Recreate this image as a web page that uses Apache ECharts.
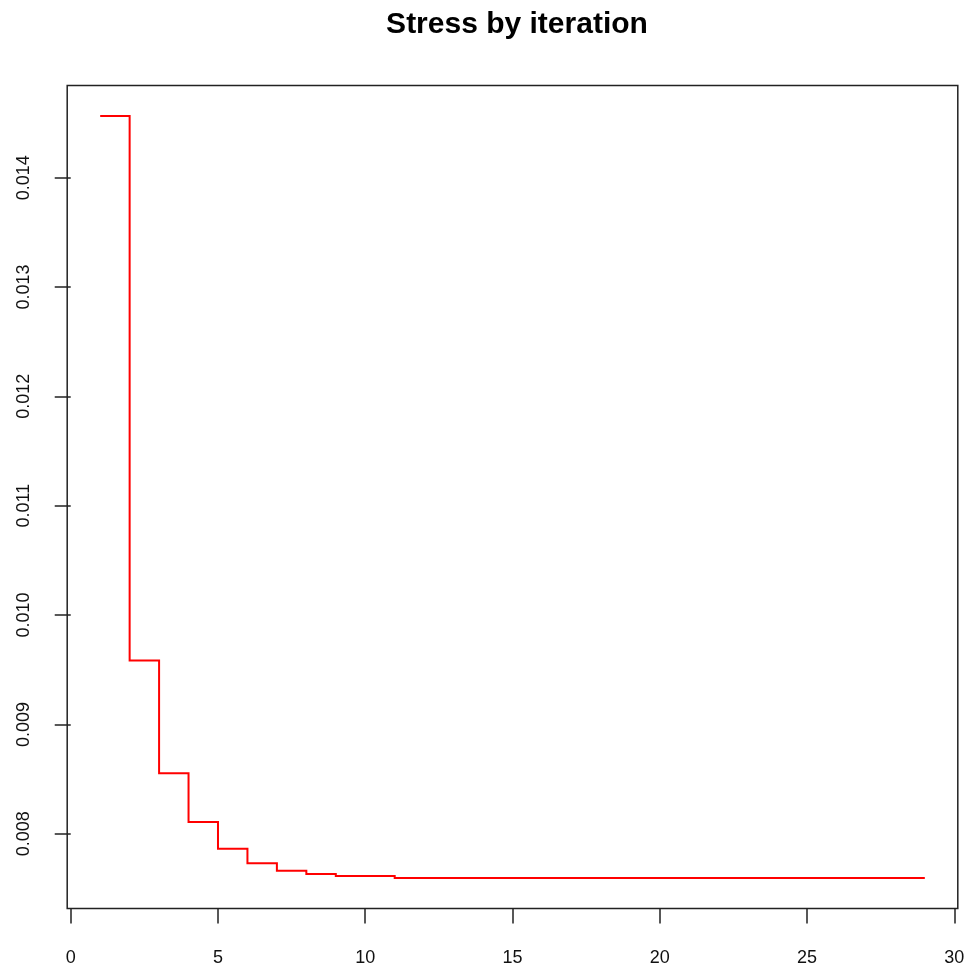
<!DOCTYPE html>
<html>
<head>
<meta charset="utf-8">
<script src="https://cdn.jsdelivr.net/npm/echarts@6/dist/echarts.min.js"></script>
<style>html,body{margin:0;padding:0;background:#fff;}#c{width:970px;height:973px;}</style>
</head>
<body>
<div id="c"></div>
<script>
const iterations = [1,2,3,4,5,6,7,8,9,10,11,12,13,14,15,16,17,18,19,20,21,22,23,24,25,26,27,28,29];
const stress = [0.014564,0.009585,0.008552,0.008107,0.007863,0.007729,0.007662,0.007631,0.007613,0.007613,
  0.007595,0.007595,0.007595,0.007595,0.007595,0.007595,0.007595,0.007595,0.007595,0.007595,
  0.007595,0.007595,0.007595,0.007595,0.007595,0.007595,0.007595,0.007595,0.007595];
const xTicks = [0,5,10,15,20,25,30];
const yTicks = [0.008,0.009,0.010,0.011,0.012,0.013,0.014];
const titleText = 'Stress by iteration';

const FONT = '"Liberation Sans", Arial, sans-serif';
const xmin0 = Math.min(...iterations), xmax0 = Math.max(...iterations);
const ymin0 = Math.min(...stress), ymax0 = Math.max(...stress);
const xr = (xmax0 - xmin0) * 0.04, yr = (ymax0 - ymin0) * 0.04;

const seriesData = iterations.map((x, i) => [x, stress[i]]);

// R type="s": horizontal first, then vertical at the next x.
function renderStep(params, api) {
  if (params.dataIndex !== 0) return null;
  const pts = [];
  for (let i = 0; i < iterations.length; i++) {
    pts.push(api.coord([iterations[i], stress[i]]));
    if (i < iterations.length - 1) pts.push(api.coord([iterations[i + 1], stress[i]]));
  }
  return {
    type: 'polyline',
    shape: {points: pts},
    style: {stroke: '#ff0000', lineWidth: 2, fill: null, lineJoin: 'miter'}
  };
}

const chart = echarts.init(document.getElementById('c'), null, {renderer:'canvas'});
chart.setOption({
  animation: false,
  backgroundColor: '#fff',
  title: {
    text: titleText, left: 512, top: 5, textAlign: 'center',
    textStyle: {fontFamily: FONT, fontWeight: 'bold', fontSize: 30, color: '#000'}
  },
  grid: {
    left: 67.2, right: 12.2, top: 85.5, bottom: 64.5,
    show: true, borderColor: '#222', borderWidth: 1.5, backgroundColor: 'transparent'
  },
  xAxis: {
    type: 'value', min: xmin0 - xr, max: xmax0 + xr,
    axisLine: {show: false},
    splitLine: {show: false},
    axisTick: {show: true, length: 15, inside: false, customValues: xTicks, lineStyle: {color: '#222', width: 1.5}},
    axisLabel: {show: true, customValues: xTicks, margin: 41, fontFamily: FONT, fontSize: 18, color: '#111',
      formatter: v => String(v)}
  },
  yAxis: {
    type: 'value', min: ymin0 - yr, max: ymax0 + yr,
    axisLine: {show: false},
    splitLine: {show: false},
    axisTick: {show: true, length: 16, inside: false, customValues: yTicks, lineStyle: {color: '#222', width: 1.5}},
    axisLabel: {show: true, customValues: yTicks, rotate: 90, margin: 34, fontFamily: FONT, fontSize: 18, color: '#111',
      formatter: v => v.toFixed(3)}
  },
  series: [{
    type: 'custom',
    renderItem: renderStep,
    encode: {x: 0, y: 1},
    data: seriesData
  }]
});
</script>
</body>
</html>
